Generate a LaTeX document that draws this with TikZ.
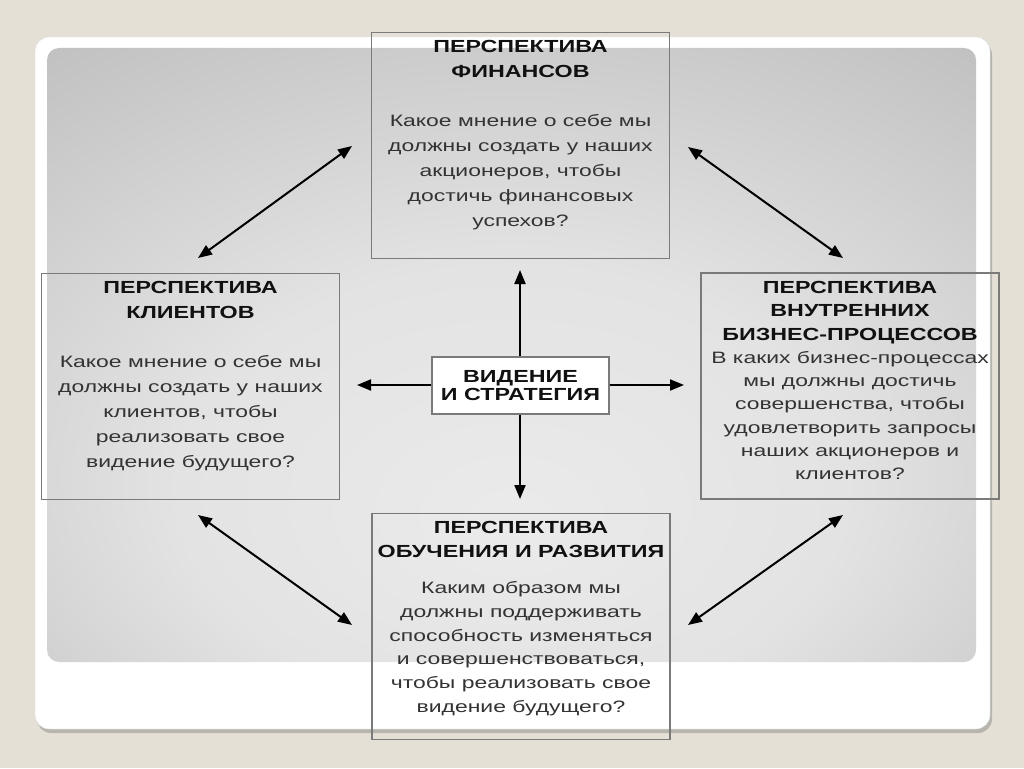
\documentclass[tikz,border=0pt]{standalone}
\usepackage{fontspec}
\setmainfont{Liberation Sans}[FakeStretch=1.39]
\newfontfamily\headfam{Liberation Sans}[FakeStretch=1.33]
\usetikzlibrary{arrows.meta, positioning, shadows}
\definecolor{slidebg}{HTML}{E5E0D6}
\definecolor{boxline}{HTML}{7A7A7A}
\definecolor{bodytext}{HTML}{333333}
\definecolor{headtext}{HTML}{111111}
\pgfdeclareradialshading{panelglow}{\pgfpoint{0bp}{-14bp}}{color(0bp)=(black!8); color(18bp)=(black!11); color(40bp)=(black!24); color(62bp)=(black!40); color(80bp)=(black!46)}
\newcommand{\headline}[1]{{\headfam\fontsize{17.5}{25}\selectfont\bfseries\color{headtext}#1}}

\tikzset{
  persp/.style={draw=boxline, line width=1.2pt, minimum width=298pt, minimum height=226pt},
  persptxt/.style={anchor=north, align=center, inner sep=0pt, text=bodytext},
  link/.style={{Triangle[length=14pt,width=11pt]}-{Triangle[length=14pt,width=11pt]}, line width=2pt},
  ray/.style={-{Triangle[length=14pt,width=11pt]}, line width=2pt}
}

\begin{document}
\begin{tikzpicture}[x=1pt, y=-1pt]
    \useasboundingbox (0,0) rectangle (1024,768);
    \fill[slidebg] (0,0) rectangle (1024,768);
    \draw[draw=black!15, fill=white, rounded corners=14pt,
      drop shadow={shadow xshift=2pt, shadow yshift=-4pt, opacity=0.35, fill=black!60}]
      (35,37) rectangle (990,729);
    \shade[shading=panelglow, rounded corners=12pt] (47,48) rectangle (976,662);

    \node[persp] at (520.5,145.5) (fin) {};
    \node[persp] at (190.5,386.5) (cli) {};
    \node[persp] at (850,386) (proc) {};
    \node[persp] at (521,626.5) (grow) {};
    \node[draw=boxline, line width=1.2pt, fill=white, minimum width=177pt, minimum height=57pt,
      align=center, inner sep=0pt] at (520.5,385.5) (vis)
      {\headline{ВИДЕНИЕ}\\[1pt]\headline{И СТРАТЕГИЯ}};

    \node[persptxt, font=\fontsize{16.5}{25}\selectfont] at (520.5,40.5) (fintxt)
      {\headline{ПЕРСПЕКТИВА}\\\headline{ФИНАНСОВ}\\[24pt]
       Какое мнение о себе мы\\должны создать у наших\\акционеров, чтобы\\достичь финансовых\\успехов?};
    \node[persptxt, font=\fontsize{16.5}{25}\selectfont] at (190.5,281) (clitxt)
      {\headline{ПЕРСПЕКТИВА}\\\headline{КЛИЕНТОВ}\\[24pt]
       Какое мнение о себе мы\\должны создать у наших\\клиентов, чтобы\\реализовать свое\\видение будущего?};
    \node[persptxt, font=\fontsize{16.5}{23.3}\selectfont] at (850,281) (proctxt)
      {\headline{ПЕРСПЕКТИВА}\\\headline{ВНУТРЕННИХ}\\\headline{БИЗНЕС-ПРОЦЕССОВ}\\
       В каких бизнес-процессах\\мы должны достичь\\совершенства, чтобы\\удовлетворить запросы\\наших акционеров и\\клиентов?};
    \node[persptxt, font=\fontsize{16.5}{23.7}\selectfont] at (521,521) (growtxt)
      {\headline{ПЕРСПЕКТИВА}\\\headline{ОБУЧЕНИЯ И РАЗВИТИЯ}\\[13pt]
       Каким образом мы\\должны поддерживать\\способность изменяться\\и совершенствоваться,\\чтобы реализовать свое\\видение будущего?};

    \coordinate (upend) at (520,270);
    \coordinate (downend) at (520,499);
    \coordinate (leftend) at (357,385);
    \coordinate (rightend) at (684,385);
    \draw[ray] (vis.north -| upend) -- (upend);
    \draw[ray] (vis.south -| downend) -- (downend);
    \draw[ray] (vis.west |- leftend) -- (leftend);
    \draw[ray] (vis.east |- rightend) -- (rightend);

    \coordinate (fc1) at (352,146);
    \coordinate (fc2) at (198,258);
    \coordinate (fp1) at (688,147);
    \coordinate (fp2) at (843,258);
    \coordinate (cg1) at (198,515);
    \coordinate (cg2) at (352,625);
    \coordinate (pg1) at (843,515);
    \coordinate (pg2) at (688,625);
    \draw[link] (fc1) -- (fc2);
    \draw[link] (fp1) -- (fp2);
    \draw[link] (cg1) -- (cg2);
    \draw[link] (pg1) -- (pg2);
\end{tikzpicture}
\end{document}
